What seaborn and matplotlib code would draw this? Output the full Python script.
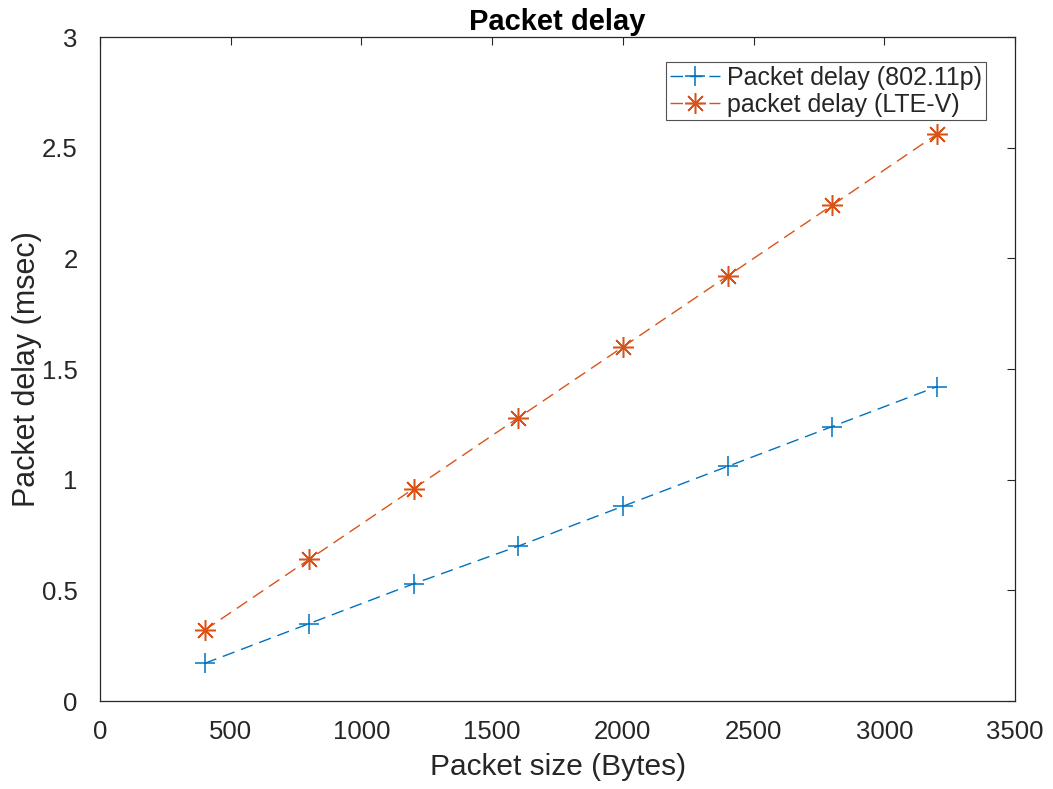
#import libraries
import numpy as np
import pandas as pd
import matplotlib
matplotlib.use("Agg")
import matplotlib.pyplot as plt
import seaborn as sns

#data
packet_size = [400, 800, 1200, 1600, 2000, 2400, 2800, 3200]
delay_80211p = [0.17, 0.35, 0.53, 0.70, 0.88, 1.06, 1.24, 1.42]
delay_ltev = [0.32, 0.64, 0.96, 1.28, 1.60, 1.92, 2.24, 2.56]
x_ticks = [0, 500, 1000, 1500, 2000, 2500, 3000, 3500]
y_ticks = [0, 0.5, 1, 1.5, 2, 2.5, 3]
y_tick_labels = ["0", "0.5", "1", "1.5", "2", "2.5", "3"]

df = pd.DataFrame({
    "size": packet_size * 2,
    "delay": delay_80211p + delay_ltev,
    "series": ["Packet delay (802.11p)"] * len(packet_size) + ["packet delay (LTE-V)"] * len(packet_size),
})

sns.set_style("white")
plt.rcParams["font.family"] = ["Liberation Sans", "DejaVu Sans"]
axis_grey = "#262626"

fig = plt.figure(figsize=(10.53, 7.89), dpi=100)
ax = fig.add_axes([0.095, 0.1115, 0.869, 0.8415])

colors = {"Packet delay (802.11p)": "#0072BD", "packet delay (LTE-V)": "#D95319"}
#matlab style markers: plus and 8-armed asterisk
markers = {"Packet delay (802.11p)": "+", "packet delay (LTE-V)": (8, 2, 0)}
msizes = {"Packet delay (802.11p)": 14, "packet delay (LTE-V)": 15}

for name, sub in df.groupby("series", sort=False):
    sns.lineplot(
        data=sub, x="size", y="delay", ax=ax,
        color=colors[name], linestyle=(0, (9, 5)), linewidth=1.0,
        marker=markers[name], markersize=msizes[name],
        markeredgewidth=1.1, markeredgecolor=colors[name],
        label=name,
    )

ax.set_xlim(0, 3500)
ax.set_ylim(0, 3)
ax.set_xticks(x_ticks)
ax.set_yticks(y_ticks)
ax.set_yticklabels(y_tick_labels)

ax.tick_params(axis="both", direction="in", length=6, width=0.8, colors=axis_grey,
               labelsize=18.5, top=True, right=True)
ax.tick_params(axis="x", pad=14)
ax.tick_params(axis="y", pad=16)
for s in ax.spines.values():
    s.set_color(axis_grey)
    s.set_linewidth(0.9)

ax.set_xlabel("Packet size (Bytes)", fontsize=21.5, color=axis_grey, labelpad=6)
ax.set_ylabel("Packet delay (msec)", fontsize=22, color=axis_grey, labelpad=0)
ax.set_title("Packet delay", fontsize=21, fontweight="bold", color="black", pad=5)

leg = ax.legend(loc="upper right", bbox_to_anchor=(0.968, 0.962), fontsize=18,
                frameon=True, fancybox=False, edgecolor=axis_grey,
                handlelength=2.0, borderpad=0.15, labelspacing=0.1,
                handletextpad=0.3, borderaxespad=0.0)
leg.get_frame().set_linewidth(0.8)

plt.savefig("out.png", dpi=100)
